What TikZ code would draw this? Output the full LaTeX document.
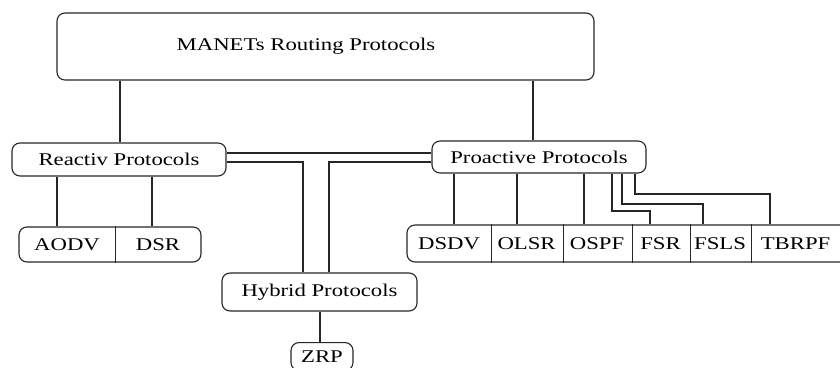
\documentclass[tikz,border=0pt]{standalone}
\usepackage{fontspec}
\setmainfont{Liberation Serif}
\usepackage{graphicx}
% horizontally widened label text
\newcommand\wtxt[1]{\scalebox{1.27}[1]{#1}}

\begin{document}
\begin{tikzpicture}[x=1pt, y=-1pt, line width=1.1pt, color=black!85,
  box/.style={draw, rounded corners=8pt, inner sep=0pt},
  cell/.style={inner sep=0pt, anchor=west, minimum height=37pt},
  pair/.style={inner sep=0pt, anchor=west, minimum height=35pt},
  lbl/.style={inner sep=0pt, font=\fontsize{17.9}{20}\selectfont, text=black}]
\clip (0,0) rectangle (840,367);

% --- root ---
\node[box, minimum width=537pt, minimum height=67pt] (top) at (325.5,46.5) {};
\node[lbl] (topText) at (306,46.5) {\wtxt{MANETs Routing Protocols}};

% --- second level ---
\node[box, lbl, minimum width=214pt, minimum height=33pt] (reac) at (119,159.5) {\wtxt{Reactiv Protocols}};
\node[box, lbl, minimum width=214pt, minimum height=32pt] (pro) at (539,157) {\wtxt{Proactive Protocols}};
\node[box, lbl, minimum width=195pt, minimum height=38pt] (hyb) at (319.5,292) {\wtxt{Hybrid Protocols}};

% --- reactive protocols ---
\node[box, minimum width=182pt, minimum height=35pt] (rrow) at (110,244.5) {};
\node[pair, lbl, minimum width=95pt] (aodv) at (19,244.5) {\wtxt{AODV}};
\node[pair, lbl, minimum width=87pt] (dsr) at (114,244.5) {\wtxt{DSR}};
\draw (aodv.north east) -- (aodv.south east);

% --- proactive protocols ---
\node[box, minimum width=443pt, minimum height=37pt] (prow) at (628.5,243.5) {};
\node[cell, lbl, minimum width=83pt] (dsdv) at (407,243.5) {\wtxt{DSDV}};
\node[cell, lbl, minimum width=72pt] (olsr) at (490,243.5) {\wtxt{OLSR}};
\node[cell, lbl, minimum width=69pt] (ospf) at (562,243.5) {\wtxt{OSPF}};
\node[cell, lbl, minimum width=58pt] (fsr) at (631,243.5) {\wtxt{FSR}};
\node[cell, lbl, minimum width=61pt] (fsls) at (689,243.5) {\wtxt{FSLS}};
\node[cell, lbl, minimum width=90pt] (tbrpf) at (750,243.5) {\wtxt{TBRPF}};
\foreach \c in {dsdv,olsr,ospf,fsr,fsls}
  \draw (\c.north east) -- (\c.south east);

% --- hybrid protocols ---
\node[box, lbl, anchor=north, minimum width=62pt, minimum height=28pt] (zrp) at (322,342) {\wtxt{ZRP}};

% --- connectors ---
\draw (120,0 |- top.south) -- (120,0 |- reac.north);
\draw (533,0 |- top.south) -- (533,0 |- pro.north);

\draw (reac.east |- 0,153) -- (pro.west |- 0,153);
\draw (reac.east |- 0,162) -| (303,0 |- hyb.north);
\draw (pro.west |- 0,162) -| (329,0 |- hyb.north);

\draw (57,0 |- reac.south) -- (57,0 |- aodv.north);
\draw (152,0 |- reac.south) -- (152,0 |- dsr.north);

\draw (320,0 |- hyb.south) -- (320,0 |- zrp.north);

\draw (454,0 |- pro.south) -- (454,0 |- dsdv.north);
\draw (517,0 |- pro.south) -- (517,0 |- olsr.north);
\draw (584,0 |- pro.south) -- (584,0 |- ospf.north);
\draw (612,0 |- pro.south) |- (650,211) -- (650,0 |- fsr.north);
\draw (622,0 |- pro.south) |- (703,204) -- (703,0 |- fsls.north);
\draw (635,0 |- pro.south) |- (770,194) -- (770,0 |- tbrpf.north);
\end{tikzpicture}
\end{document}
